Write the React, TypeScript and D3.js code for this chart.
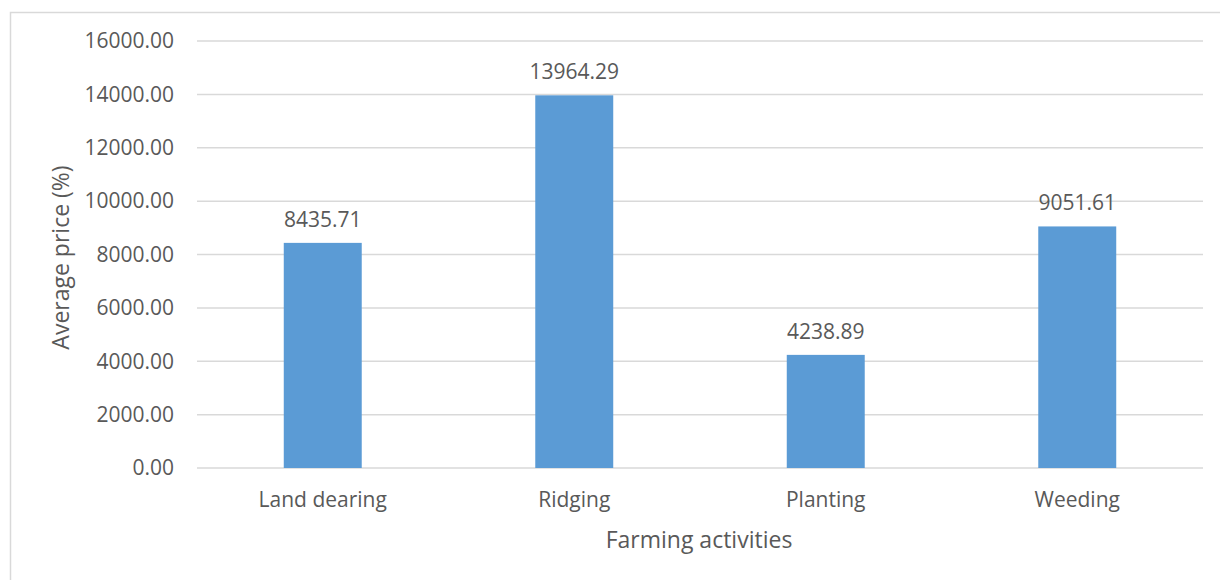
import React from "react";
import * as d3 from "d3";

const categories = ["Land dearing", "Ridging", "Planting", "Weeding"];
const values = [8435.71, 13964.29, 4238.89, 9051.61];
const yTicks = [0, 2000, 4000, 6000, 8000, 10000, 12000, 14000, 16000];

const W = 1220;
const H = 580;
const plot = { left: 197, right: 1203, top: 41, bottom: 468 };
const FONT = "'Open Sans', 'Liberation Sans', sans-serif";
const TEXT = "#595959";

export default function App() {
  const x = d3
    .scaleBand<string>()
    .domain(categories)
    .range([plot.left, plot.right])
    .paddingInner(0.69)
    .paddingOuter(0.345);
  const y = d3.scaleLinear().domain([0, 16000]).range([plot.bottom, plot.top]);
  const fmt = d3.format(".2f");

  return (
    <svg
      width={W}
      height={H}
      style={{ position: "absolute", left: 0, top: 0, background: "#fff" }}
      fontFamily={FONT}
    >
      <rect x={10.5} y={12.5} width={W} height={H} fill="#fff" stroke="#d9d9d9" strokeWidth={1.5} />
      {yTicks.map((t) => (
        <g key={t}>
          <line x1={plot.left} x2={plot.right} y1={y(t)} y2={y(t)} stroke="#d9d9d9" strokeWidth={1.5} />
          <text x={174} y={y(t)} dy="0.35em" textAnchor="end" fontSize={21} fill={TEXT}>
            {fmt(t)}
          </text>
        </g>
      ))}
      {categories.map((c, i) => (
        <g key={c}>
          <rect x={x(c)} y={y(values[i])} width={x.bandwidth()} height={y(0) - y(values[i])} fill="#5b9bd5" />
          <text
            x={(x(c) as number) + x.bandwidth() / 2}
            y={y(values[i]) - 16}
            textAnchor="middle"
            fontSize={21}
            fill={TEXT}
          >
            {values[i].toFixed(2)}
          </text>
          <text
            x={(x(c) as number) + x.bandwidth() / 2}
            y={507}
            textAnchor="middle"
            fontSize={21}
            fill={TEXT}
          >
            {c}
          </text>
        </g>
      ))}
      <text x={699} y={548} textAnchor="middle" fontSize={23} fill={TEXT}>
        Farming activities
      </text>
      <text
        transform={`translate(69, ${(plot.top + plot.bottom) / 2 + 3}) rotate(-90)`}
        textAnchor="middle"
        fontSize={23}
        fill={TEXT}
      >
        Average price (%)
      </text>
    </svg>
  );
}
